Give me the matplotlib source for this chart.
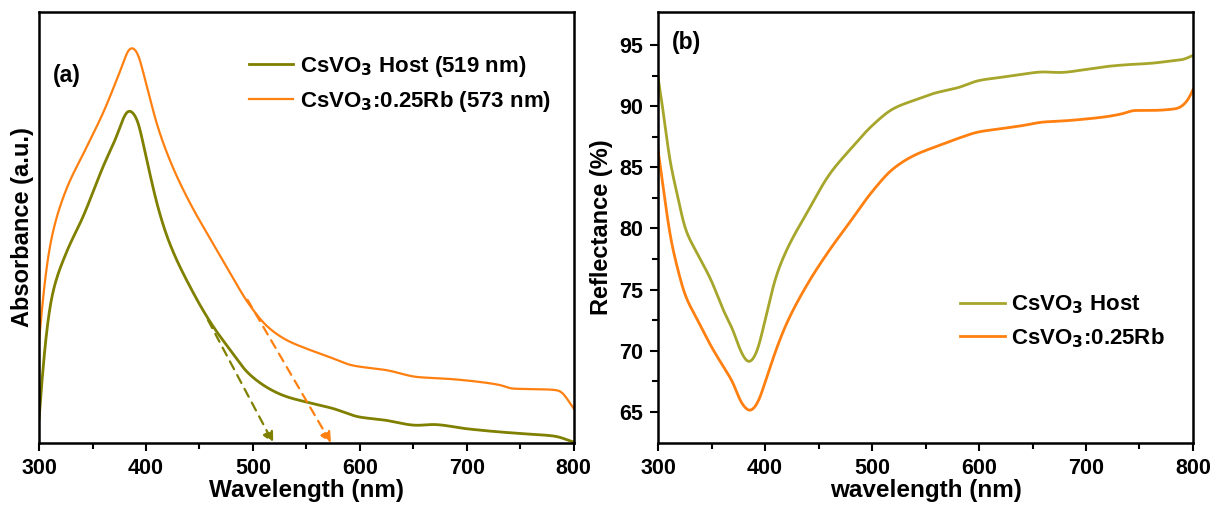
import matplotlib.pyplot as plt
import numpy as np

plt.rcParams['font.family'] = ['Liberation Sans', 'DejaVu Sans']
plt.rcParams['font.weight'] = 'bold'
plt.rcParams['axes.labelweight'] = 'bold'
plt.rcParams['mathtext.default'] = 'bf'

# (a) absorbance, arbitrary units
wl_abs_host = [300, 303.6, 311, 325, 341, 361, 371, 384, 391, 400, 411, 421, 443, 461,
               479, 496, 518, 532, 550, 575, 600, 621, 654, 668, 700, 729, 750, 782, 800]
abs_host = [0.056, 0.176, 0.331, 0.439, 0.524, 0.648, 0.702, 0.773, 0.756, 0.664, 0.548,
            0.470, 0.354, 0.277, 0.215, 0.161, 0.122, 0.107, 0.095, 0.080, 0.060, 0.054,
            0.041, 0.043, 0.033, 0.026, 0.022, 0.016, 0.002]

wl_abs_rb = [300, 305, 311, 325, 343, 361, 375, 386, 391, 400, 411, 425, 443, 461, 479,
             496, 514, 532, 550, 571, 593, 625, 654, 682, 711, 732, 743, 768, 786, 800]
abs_rb = [0.238, 0.370, 0.470, 0.586, 0.679, 0.772, 0.857, 0.919, 0.911, 0.834, 0.733,
          0.640, 0.548, 0.470, 0.393, 0.323, 0.269, 0.238, 0.219, 0.200, 0.180, 0.169,
          0.153, 0.149, 0.142, 0.134, 0.126, 0.125, 0.122, 0.080]

# band edge tangents: (start wavelength, start value, edge wavelength)
edge_host = (458, 0.285, 519)
edge_rb = (495, 0.332, 573)

# (b) reflectance in %
wl_ref = [300, 305, 311, 318, 325, 337, 350, 361, 370, 378, 385, 392, 400, 410, 420,
          440, 460, 480, 500, 520, 540, 560, 580, 600, 620, 640, 660, 675, 700, 720,
          740, 760, 780, 790, 800]
ref_host = [92.35, 89.5, 85.5, 82.8, 80.05, 77.9, 75.7, 73.3, 71.7, 69.8, 69.0, 69.8,
            72.5, 76.0, 78.2, 81.4, 84.4, 86.5, 88.4, 89.8, 90.5, 91.1, 91.5, 92.1,
            92.35, 92.6, 92.8, 92.75, 93.0, 93.25, 93.4, 93.5, 93.7, 93.8, 94.15]

wl_ref_rb = [300, 305, 311, 318, 325, 337, 350, 361, 370, 378, 386, 393, 400, 410, 420,
             440, 460, 480, 500, 520, 540, 560, 580, 600, 620, 640, 660, 680, 700, 720,
             735, 745, 760, 785, 795, 800]
ref_rb = [86.4, 83.3, 79.5, 76.8, 74.6, 72.5, 70.3, 68.7, 67.4, 65.7, 65.05, 65.7, 67.4,
          70.0, 72.2, 75.5, 78.2, 80.6, 83.0, 84.9, 86.0, 86.7, 87.35, 87.9, 88.15, 88.4,
          88.7, 88.8, 88.95, 89.15, 89.4, 89.65, 89.65, 89.8, 90.45, 91.35]

olive = '#7f7f00'
olive_b = '#a6a62c'
orange = '#ff8010'


def smooth(x, y, sigma=2.5):
    # monotone cubic (Fritsch-Carlson) through the read points, then a light gaussian
    x = np.asarray(x, float)
    y = np.asarray(y, float)
    h = np.diff(x)
    d = np.diff(y) / h
    m = np.zeros_like(y)
    m[0], m[-1] = d[0], d[-1]
    for i in range(1, len(y) - 1):
        if d[i - 1] * d[i] > 0:
            w1 = 2 * h[i] + h[i - 1]
            w2 = h[i] + 2 * h[i - 1]
            m[i] = (w1 + w2) / (w1 / d[i - 1] + w2 / d[i])
    xs = np.linspace(x[0], x[-1], 1001)
    k = np.clip(np.searchsorted(x, xs) - 1, 0, len(x) - 2)
    t = (xs - x[k]) / h[k]
    h00 = 2 * t**3 - 3 * t**2 + 1
    h10 = t**3 - 2 * t**2 + t
    h01 = -2 * t**3 + 3 * t**2
    h11 = t**3 - t**2
    ys = h00 * y[k] + h10 * h[k] * m[k] + h01 * y[k + 1] + h11 * h[k] * m[k + 1]
    step = xs[1] - xs[0]
    n = int(3 * sigma / step)
    g = np.exp(-0.5 * (np.arange(-n, n + 1) * step / sigma) ** 2)
    g /= g.sum()
    # odd reflection keeps the end slopes
    yp = np.concatenate([2 * ys[0] - ys[n:0:-1], ys, 2 * ys[-1] - ys[-2:-n - 2:-1]])
    return xs, np.convolve(yp, g, mode='valid')


def style(ax):
    ax.set_xlim(300, 800)
    ax.set_xticks([300, 400, 500, 600, 700, 800])
    ax.set_xticks(np.arange(350, 800, 100), minor=True)
    ax.tick_params(direction='out', width=1.5, length=6, labelsize=15.5, pad=5)
    ax.tick_params(which='minor', direction='out', width=1.5, length=4)
    for s in ax.spines.values():
        s.set_linewidth(1.8)


fig = plt.figure(figsize=(12.13, 5.15), dpi=100)
ax1 = fig.add_axes([0.0322, 0.1398, 0.4408, 0.8369])
ax2 = fig.add_axes([0.5425, 0.1398, 0.441, 0.8369])

# absorbance
ax1.plot(*smooth(wl_abs_host, abs_host), color=olive, lw=2, label='CsVO$_3$ Host (519 nm)')
ax1.plot(*smooth(wl_abs_rb, abs_rb), color=orange, lw=1.6, label='CsVO$_3$:0.25Rb (573 nm)')
for (x0, y0, x1), c in [(edge_host, olive), (edge_rb, orange)]:
    ax1.annotate('', xy=(x1, 0), xytext=(x0, y0),
                 arrowprops=dict(arrowstyle='-|>', linestyle=(0, (4, 3)), color=c,
                                 lw=1.6, mutation_scale=16, shrinkA=0, shrinkB=0))
style(ax1)
ax1.set_ylim(0, 1.0)
ax1.set_yticks([])
ax1.set_xlabel('Wavelength (nm)', fontsize=17.5, labelpad=0)
ax1.set_ylabel('Absorbance (a.u.)', fontsize=17, labelpad=4)
ax1.text(0.025, 0.853, '(a)', transform=ax1.transAxes, fontsize=16.5, va='center')
ax1.legend(loc='upper right', bbox_to_anchor=(0.995, 0.95), frameon=False, fontsize=16,
           handlelength=2.0, handletextpad=0.3, labelspacing=0.45)

# reflectance
ax2.plot(*smooth(wl_ref, ref_host), color=olive_b, lw=2, label='CsVO$_3$ Host')
ax2.plot(*smooth(wl_ref_rb, ref_rb), color=orange, lw=2, label='CsVO$_3$:0.25Rb')
style(ax2)
ax2.set_ylim(62.45, 97.7)
ax2.set_yticks([65, 70, 75, 80, 85, 90, 95])
ax2.set_yticks(np.arange(67.5, 97, 5), minor=True)
ax2.set_xlabel('wavelength (nm)', fontsize=17.5, labelpad=0)
ax2.set_ylabel('Reflectance (%)', fontsize=17, labelpad=4)
ax2.text(0.025, 0.93, '(b)', transform=ax2.transAxes, fontsize=16.5, va='center')
ax2.legend(loc='lower right', bbox_to_anchor=(0.985, 0.17), frameon=False, fontsize=16,
           handlelength=2.0, handletextpad=0.3, labelspacing=0.45)

fig.savefig('out.png', dpi=100)
